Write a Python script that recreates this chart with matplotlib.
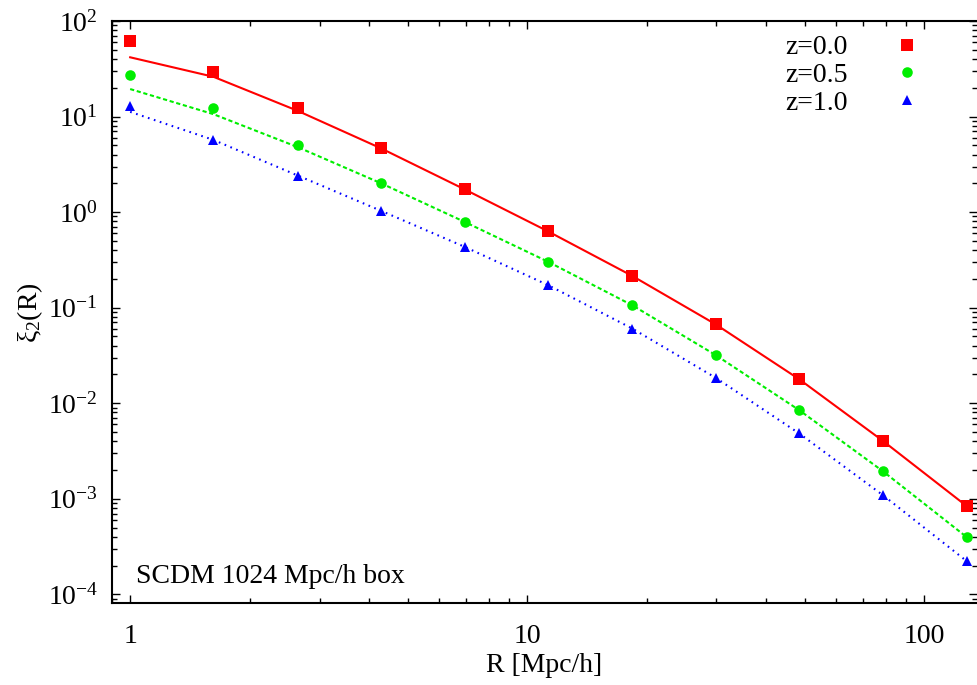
import matplotlib
matplotlib.use("Agg")
import math
import matplotlib.pyplot as plt
from matplotlib.ticker import LogLocator, NullFormatter, FuncFormatter

plt.rcParams['font.family'] = ['Liberation Serif', 'DejaVu Serif']
plt.rcParams['mathtext.fontset'] = 'custom'
plt.rcParams['mathtext.rm'] = 'Liberation Serif'
plt.rcParams['mathtext.it'] = 'Liberation Serif:italic'
plt.rcParams['mathtext.bf'] = 'Liberation Serif:bold'
plt.rcParams['font.size'] = 20

# Data
R = [1.0, 1.62, 2.64, 4.29, 6.96, 11.3, 18.4, 29.9, 48.5, 78.8, 128.0]

xi_z00 = [62.2, 29.4, 12.2, 4.64, 1.73, 0.628, 0.215, 0.0667, 0.0178, 0.00403, 8.4e-4]
xi_z05 = [27.0, 12.4, 5.03, 2.01, 0.79, 0.302, 0.106, 0.0318, 0.00845, 0.00194, 3.98e-4]
xi_z10 = [13.0, 5.68, 2.40, 1.02, 0.433, 0.172, 0.0605, 0.0184, 0.00482, 0.00109, 2.23e-4]

theory_z00 = [41.7, 26.1, 11.5, 4.64, 1.73, 0.628, 0.215, 0.0667, 0.0178, 0.00403, 8.4e-4]
theory_z05 = [19.4, 10.6, 4.8, 2.0, 0.79, 0.302, 0.106, 0.0318, 0.00845, 0.00194, 3.98e-4]
theory_z10 = [11.2, 5.7, 2.42, 1.03, 0.433, 0.172, 0.0605, 0.0184, 0.00482, 0.00109, 2.23e-4]

labels = ['z=0.0', 'z=0.5', 'z=1.0']
colors = ['#ff0000', '#00ee00', '#0000ff']

fig = plt.figure(figsize=(9.77, 6.85), dpi=100)
ax = fig.add_axes([112/977, (685-603.3)/685, (977-112)/977, (603.3-21)/685])

lw = 1.5
ax.plot(R, theory_z00, color=colors[0], lw=lw, ls='-')
ax.plot(R, theory_z05, color=colors[1], lw=lw, ls=(0, (2.0, 1.3)))
ax.plot(R, theory_z10, color=colors[2], lw=lw, ls=(0, (0.8, 2.2)))

h1, = ax.plot(R, xi_z00, ls='none', marker='s', ms=8.0, color=colors[0], mew=0, label=labels[0])
h2, = ax.plot(R, xi_z05, ls='none', marker='o', ms=7.6, color=colors[1], mew=0, label=labels[1])
h3, = ax.plot(R, xi_z10, ls='none', marker='^', ms=7.2, color=colors[2], mew=0, label=labels[2])

ax.set_xscale('log')
ax.set_yscale('log')
ax.set_xlim(0.9, 136)
ax.set_ylim(8.05e-5, 100)

ax.xaxis.set_major_locator(LogLocator(base=10, numticks=10))
ax.xaxis.set_minor_locator(LogLocator(base=10, subs=range(2, 10), numticks=20))
ax.yaxis.set_major_locator(LogLocator(base=10, numticks=10))
ax.yaxis.set_minor_locator(LogLocator(base=10, subs=range(2, 10), numticks=20))
ax.xaxis.set_minor_formatter(NullFormatter())
ax.yaxis.set_minor_formatter(NullFormatter())
ax.xaxis.set_major_formatter(FuncFormatter(lambda v, p: '%g' % v))


def yfmt(v, p):
    e = int(round(math.log10(v)))
    return r'$\mathregular{10^{%d}}$' % e


ax.yaxis.set_major_formatter(FuncFormatter(yfmt))

ax.tick_params(which='both', direction='in', top=True, right=True, width=1.0, colors='black')
ax.tick_params(which='major', length=6, labelsize=20)
ax.tick_params(which='minor', length=3.6, labelbottom=False, labelleft=False)
ax.tick_params(axis='x', which='major', pad=15)
ax.tick_params(axis='y', which='major', pad=10)
for s in ax.spines.values():
    s.set_linewidth(1.5)
ax.spines['right'].set_visible(False)
ax.xaxis.get_offset_text().set_visible(False)
ax.yaxis.get_offset_text().set_visible(False)

ax.set_xlabel('R [Mpc/h]', fontsize=20, labelpad=3)
ax.set_ylabel(r'$\mathregular{\xi_2}$(R)', fontsize=20, labelpad=2)

ax.text(0.028, 0.046, 'SCDM 1024 Mpc/h box', transform=ax.transAxes, fontsize=20,
        ha='left', va='center')

leg = ax.legend(handles=[h1, h2, h3], loc='upper right',
                bbox_to_anchor=((935-112)/865, (603.3-35)/582.3),
                markerfirst=False, frameon=False, numpoints=1,
                handlelength=2.0, handletextpad=1.15, labelspacing=0.08,
                borderpad=0, borderaxespad=0, fontsize=20)

fig.savefig('out.png', dpi=100)
